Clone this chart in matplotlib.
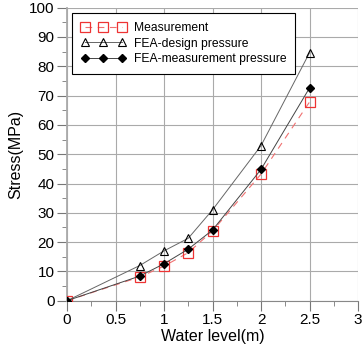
import matplotlib
matplotlib.use("Agg")
import matplotlib.pyplot as plt
from matplotlib.ticker import MultipleLocator

plt.rcParams['font.family'] = ['Liberation Sans', 'DejaVu Sans']

water_level = [0, 0.75, 1.0, 1.25, 1.5, 2.0, 2.5]
measurement = [0, 8.1, 11.8, 16.4, 23.8, 43.2, 67.8]
fea_design = [0, 12.0, 17.0, 21.3, 31.0, 52.9, 84.6]
fea_meas = [0, 8.4, 12.6, 17.6, 24.1, 44.8, 72.6]

fig = plt.figure(figsize=(3.63, 3.54), dpi=100)
ax = fig.add_axes([67/363, 53.3/354, 291/363, 293/354])

ax.plot(water_level, measurement, color='#f07070', linestyle=(0, (6, 5)), lw=0.8,
        marker='s', markersize=6.5, markerfacecolor='none', markeredgecolor='#ee3333',
        markeredgewidth=0.9, label='Measurement', zorder=3)
ax.plot(water_level, fea_design, color='#666666', lw=0.7,
        marker='^', markersize=6, markerfacecolor='none', markeredgecolor='black',
        markeredgewidth=0.8, label='FEA-design pressure', zorder=4)
ax.plot(water_level, fea_meas, color='#444444', lw=0.7,
        marker='D', markersize=4.5, markerfacecolor='black', markeredgecolor='black',
        label='FEA-measurement pressure', zorder=5)

ax.set_xlim(0, 3)
ax.set_ylim(0, 100)
ax.xaxis.set_major_locator(MultipleLocator(0.5))
ax.xaxis.set_minor_locator(MultipleLocator(0.25))
ax.yaxis.set_major_locator(MultipleLocator(10))
ax.yaxis.set_minor_locator(MultipleLocator(5))
ax.set_xticks([0, 0.5, 1, 1.5, 2, 2.5, 3])
ax.set_xticklabels(['0', '0.5', '1', '1.5', '2', '2.5', '3'])
ax.grid(True, which='major', color='#aaaaaa', lw=0.8)
ax.set_axisbelow(True)
for s in ['top', 'right']:
    ax.spines[s].set_visible(False)
ax.spines['left'].set_color('#aaaaaa')
ax.spines['bottom'].set_color('#888888')
ax.spines['left'].set_linewidth(1.3)
ax.tick_params(which='major', direction='out', length=7, color='#777777', labelsize=11, pad=2)
ax.tick_params(which='minor', direction='out', length=3.5, color='#777777')

ax.set_xlabel('Water level(m)', fontsize=11.5, labelpad=1)
ax.set_ylabel('Stress(MPa)', fontsize=11.5, labelpad=4)

leg = ax.legend(loc='upper left', numpoints=3, fontsize=8.7, frameon=True, fancybox=False,
                edgecolor='black', framealpha=1, borderpad=0.75, handlelength=3.7,
                handletextpad=0.65, labelspacing=0.3, borderaxespad=0,
                bbox_to_anchor=(0.017, 0.982))
leg.get_frame().set_linewidth(0.8)

fig.savefig('out.png', dpi=100)
